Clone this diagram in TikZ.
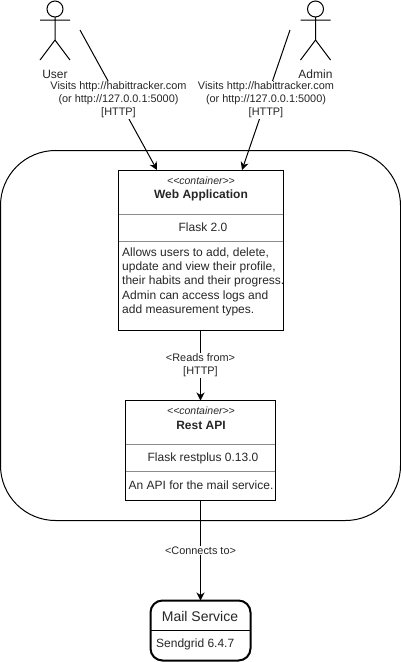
\documentclass[tikz,border=0pt]{standalone}
\usepackage{fontspec}
\setmainfont{Liberation Sans}[Ligatures=NoCommon]
\usetikzlibrary{arrows.meta}
\definecolor{txt}{HTML}{262626}
\definecolor{divider}{HTML}{8C8C8C}
\newcommand{\guil}[1]{<{}<#1>{}>}
\tikzset{
  x=1pt,y=-1pt,
  line/.style={draw=black,line width=1pt},
  conn/.style={line,-{Stealth[length=8pt,width=8pt,inset=2.5pt]}},
  boxnode/.style={line,inner sep=0pt,outer sep=0pt,anchor=north west},
  lab/.style={fill=white,inner sep=0.5pt,align=center,font=\fontsize{10.9}{13}\selectfont,text=txt},
  body/.style={inner sep=0pt,align=center,font=\fontsize{12}{14}\selectfont,text=txt},
  divline/.style={draw=divider,line width=1pt},
}
\begin{document}
\begin{tikzpicture}
\useasboundingbox (0,0) rectangle (401,662);
% boundary
\node[boxnode,rounded corners=55pt,minimum width=400pt,minimum height=370pt] (boundary) at (0.5,150.5) {};
% actors
\draw[line] (55,9) circle[radius=8];
\draw[line] (55,17) -- (55,40) (40,20) -- (70,20) (40,60) -- (55,40) -- (70,60);
\node[body,anchor=center] (userlab) at (55,74) {User};
\draw[line] (315.5,9) circle[radius=8];
\draw[line] (315.5,17) -- (315.5,40) (300.5,20) -- (330.5,20) (300.5,60) -- (315.5,40) -- (330.5,60);
\node[body,anchor=center] (adminlab) at (315.5,74) {Admin};
% web application
\node[boxnode,minimum width=165pt,minimum height=160pt] (web) at (118,170.5) {};
\draw[divline] (118,214.5) -- (283,214.5) (118,241.5) -- (283,241.5);
\draw[line] (118,170.5) rectangle (283,330.5);
\node[inner sep=0pt,font=\fontsize{10.5}{12}\selectfont\itshape,text=txt] (webst) at (201,181) {\guil{container}};
\node[inner sep=0pt,font=\fontsize{12}{14}\selectfont\bfseries,text=txt] (webt) at (201,195) {Web Application};
\node[body] (webf) at (203,227.5) {Flask 2.0};
\node[body,align=left,anchor=north west,font=\fontsize{12}{14.2}\selectfont] (webd) at (122,247.5) {Allows users to add, delete,\\update and view their profile,\\their habits and their progress.\\Admin can access logs and\\add measurement types.};
% rest api
\node[boxnode,minimum width=150pt,minimum height=100pt] (api) at (125.5,400.5) {};
\draw[divline] (125.5,444.5) -- (276,444.5) (125.5,471.5) -- (276,471.5);
\draw[line] (125.5,400.5) rectangle (275.5,500.5);
\node[inner sep=0pt,font=\fontsize{10.5}{12}\selectfont\itshape,text=txt] (apist) at (201,411) {\guil{container}};
\node[inner sep=0pt,font=\fontsize{12}{14}\selectfont\bfseries,text=txt] (apit) at (201,425) {Rest API};
\node[body] (apif) at (203,458) {Flask restplus 0.13.0};
\node[body] (apid) at (201,485) {An API for the mail service.};
% mail service
\node[boxnode,line width=2pt,rounded corners=12pt,minimum width=100pt,minimum height=60pt] (mail) at (150.5,600.5) {};
\draw[draw=black,line width=1.5pt] (150.5,630.5) -- (250.5,630.5);
\node[inner sep=0pt,font=\fontsize{14}{16}\selectfont,text=txt] (mailt) at (200,616) {Mail Service};
\node[body,anchor=west] (mails) at (156,644) {Sendgrid 6.4.7};
% connectors
\coordinate (ustart) at (80,30);
\coordinate (uend) at (157,170);
\coordinate (astart) at (290,30);
\coordinate (aend) at (242,170);
\draw[conn] (ustart) -- node[lab] (ulab) {Visits http://habittracker.com\\(or http://127.0.0.1:5000)\\{}[HTTP]} (uend);
\draw[conn] (astart) -- node[lab] (alab) {Visits http://habittracker.com\\(or http://127.0.0.1:5000)\\{}[HTTP]} (aend);
\draw[conn] (web.south -| 200.5,0) -- node[lab] (rlab) {<Reads from>\\{}[HTTP]} (api.north -| 200.5,0);
\draw[conn] (api.south -| 200.5,0) -- node[lab] (clab) {<Connects to>} (mail.north -| 200.5,0);
\end{tikzpicture}
\end{document}
